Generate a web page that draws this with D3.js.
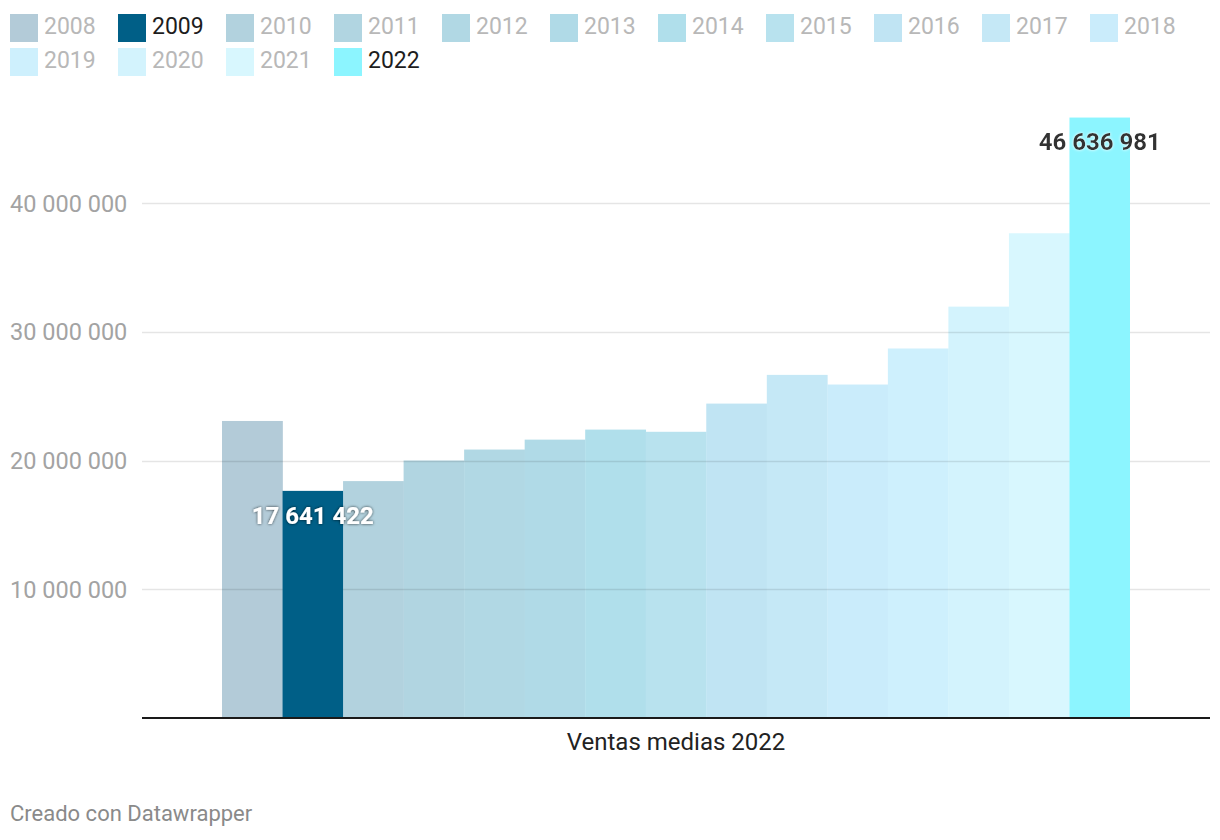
<!DOCTYPE html>
<html>
<head>
<meta charset="utf-8">
<script src="https://cdn.jsdelivr.net/npm/d3@7"></script>
<style>
  html, body { margin: 0; padding: 0; background: #fff; }
  svg { display: block; font-family: Roboto, "Noto Sans", sans-serif; }
</style>
</head>
<body>
<svg id="chart" width="1220" height="840"></svg>
<script>
const years = ["2008","2009","2010","2011","2012","2013","2014","2015","2016","2017","2018","2019","2020","2021","2022"];
const values = [23070000, 17641422, 18400000, 20000000, 20850000, 21620000, 22400000, 22230000, 24420000, 26650000, 25900000, 28700000, 31950000, 37650000, 46636981];
const colors = ["#b3cbd8","#005f87","#b2d2de","#b1d5e1","#b1d8e4","#b0dae7","#b0dfeb","#b8e2ee","#c0e4f3","#c5e8f6","#caecfb","#cef0fd","#d3f3fd","#d8f7fe","#8cf5ff"];
const highlighted = ["2009","2022"];
const labelled = { "2009": "17 641 422", "2022": "46 636 981" };
const yTicks = [10000000, 20000000, 30000000, 40000000];
const categoryLabel = "Ventas medias 2022";
const footer = "Creado con Datawrapper";

const svg = d3.select("#chart");
const defs = svg.append("defs");
const f1 = defs.append("filter").attr("id","darkShadow").attr("x","-20%").attr("y","-50%").attr("width","140%").attr("height","200%");
f1.append("feDropShadow").attr("dx",0).attr("dy",0).attr("stdDeviation",1.6).attr("flood-color","#000").attr("flood-opacity",0.75);
const f2 = defs.append("filter").attr("id","lightShadow").attr("x","-20%").attr("y","-50%").attr("width","140%").attr("height","200%");
f2.append("feDropShadow").attr("dx",0).attr("dy",0).attr("stdDeviation",1.6).attr("flood-color","#fff").attr("flood-opacity",1);

const fmt = n => d3.format(",")(n).replace(/,/g, " ");

const x = d3.scaleBand().domain(years).range([222, 1130]).paddingInner(0).paddingOuter(0);
const y = d3.scaleLinear().domain([0, 40000000]).range([718, 203]);
const gridX0 = 142, gridX1 = 1210;

// Legend
const legend = svg.append("g");
const perRow = 11, itemW = 108, rowH = 34;
years.forEach((yr, i) => {
  const r = Math.floor(i / perRow), c = i % perRow;
  const g = legend.append("g").attr("transform", `translate(${10 + c*itemW},${14 + r*rowH})`);
  g.append("rect").attr("width", 28).attr("height", 28).attr("fill", colors[i]);
  g.append("text").attr("x", 34).attr("y", 19.5).attr("font-size", 23)
    .attr("fill", highlighted.includes(yr) ? "#1d1d1d" : "#b8b8b8").text(yr);
});

// Non-highlighted bars
const barData = years.map((yr, i) => ({ yr, v: values[i], c: colors[i] }));
svg.append("g").selectAll("rect").data(barData.filter(d => !highlighted.includes(d.yr))).join("rect")
  .attr("x", d => x(d.yr)).attr("width", x.bandwidth() + 0.3)
  .attr("y", d => y(d.v)).attr("height", d => y(0) - y(d.v)).attr("fill", d => d.c);

// Gridlines (semi-transparent so they show through bars)
const grid = svg.append("g");
grid.selectAll("line").data(yTicks).join("line")
  .attr("x1", gridX0).attr("x2", gridX1)
  .attr("y1", d => Math.round(y(d)) + 0.5).attr("y2", d => Math.round(y(d)) + 0.5)
  .attr("stroke", "rgba(0,0,0,0.1)").attr("stroke-width", 1.5);

// Highlighted bars
svg.append("g").selectAll("rect").data(barData.filter(d => highlighted.includes(d.yr))).join("rect")
  .attr("x", d => x(d.yr)).attr("width", x.bandwidth())
  .attr("y", d => y(d.v)).attr("height", d => y(0) - y(d.v)).attr("fill", d => d.c);

// Y-axis tick labels
const yAxis = d3.axisLeft(y).tickValues(yTicks).tickFormat(fmt).tickSize(0);
const yg = svg.append("g").attr("transform", "translate(10,0)").call(yAxis);
yg.select(".domain").remove();
yg.selectAll("text").attr("x", 0).attr("text-anchor", "start").attr("dy", "0.35em")
  .attr("font-size", 23.5).attr("fill", "#a3a3a3").attr("font-family", "Roboto, sans-serif");

// Baseline
svg.append("line").attr("x1", gridX0).attr("x2", gridX1).attr("y1", y(0)).attr("y2", y(0))
  .attr("stroke", "#1a1a1a").attr("stroke-width", 2);

// Category label
svg.append("text").attr("x", 676).attr("y", 750).attr("text-anchor", "middle")
  .attr("font-size", 24).attr("fill", "#222").text(categoryLabel);

// Value labels
svg.append("text").attr("x", x("2009") + x.bandwidth()/2).attr("y", 524).attr("text-anchor", "middle")
  .attr("font-size", 24).attr("font-weight", 700).attr("fill", "#fff").attr("filter", "url(#darkShadow)")
  .text(labelled["2009"]);
svg.append("text").attr("x", x("2022") + x.bandwidth()/2).attr("y", 150).attr("text-anchor", "middle")
  .attr("font-size", 24).attr("font-weight", 700).attr("fill", "#333").attr("filter", "url(#lightShadow)")
  .text(labelled["2022"]);

// Footer
svg.append("text").attr("x", 10).attr("y", 821).attr("font-size", 22).attr("fill", "#8a8a8a").text(footer);
</script>
</body>
</html>
